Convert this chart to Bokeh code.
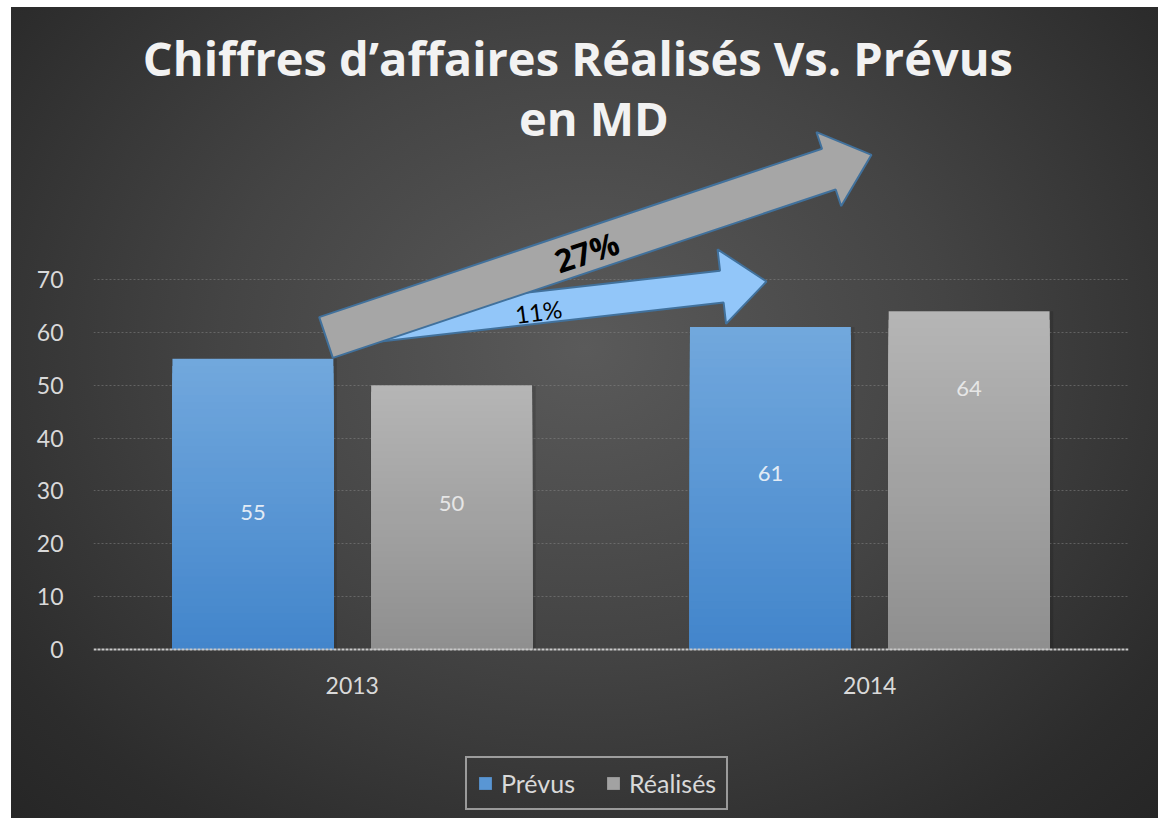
import math
from bokeh.plotting import figure
from bokeh.models import (Range1d, FactorRange, FixedTicker, Legend, LegendItem,
                          ColumnDataSource)
from bokeh.transform import dodge
from bokeh.core.properties import value
from bokeh.embed import file_html
from bokeh.resources import INLINE

# ---------------- data ----------------
years = ["2013", "2014"]
series_names = ["Prévus", "Réalisés"]
prevus = [55, 61]
realises = [50, 64]
label_y_prevus = [25.9, 33.3]
label_y_realises = [27.6, 49.4]
y_ticks = [0, 10, 20, 30, 40, 50, 60, 70]
growth_labels = ["27%", "11%"]
title_lines = ["Chiffres d\u2019affaires Réalisés Vs. Prévus", "en MD"]

FONT = "Lato"
W, H = 1147, 811
FL, FR = 82, 30
ZERO_Y = 642                             # pixel row of value 0 (from figure top)
PX_X = (W - FL - FR) / 2.0               # px per category
PX_Y = 370.0 / 70.0                      # px per unit
Y_END = ZERO_Y / PX_Y
Y_START = -(H - ZERO_Y) / PX_Y

p = figure(width=W, height=H, output_backend="svg", toolbar_location=None,
           x_range=FactorRange(factors=years, range_padding=0),
           y_range=Range1d(Y_START, Y_END),
           min_border_left=FL, min_border_right=FR, min_border_top=0, min_border_bottom=0,
           border_fill_color=None, background_fill_color=None, outline_line_color=None,
           styles={"margin-left": "11px", "margin-top": "7px",
                   "background": "radial-gradient(ellipse farthest-corner at 50% 42%, #5a5a5a 0%, #444444 45%, #2c2c2c 85%, #262626 100%)"})

# axes
p.yaxis.ticker = FixedTicker(ticks=y_ticks)
p.yaxis.axis_line_color = None
p.yaxis.major_tick_line_color = None
p.yaxis.minor_tick_line_color = None
p.yaxis.major_label_standoff = 24
p.yaxis.major_label_text_font = FONT
p.yaxis.major_label_text_font_size = "23px"
p.yaxis.major_label_text_color = "#d9d9d9"

p.xaxis.fixed_location = 0
p.xaxis.axis_line_color = "#c8c8c8"
p.xaxis.axis_line_width = 2
p.xaxis.axis_line_dash = "3 1"
p.xaxis.major_tick_line_color = None
p.xaxis.minor_tick_line_color = None
p.xaxis.major_label_standoff = 21
p.xaxis.major_label_text_font = FONT
p.xaxis.major_label_text_font_size = "23px"
p.xaxis.major_label_text_color = "#d9d9d9"

p.xgrid.grid_line_color = None
p.ygrid.ticker = FixedTicker(ticks=y_ticks[1:])
p.ygrid.grid_line_color = "#8a8a8a"
p.ygrid.grid_line_alpha = 0.5
p.ygrid.grid_line_dash = "2 2"

# ---------------- title (two lines) ----------------
p.text(x=[0.936], y=[112.0], text=[title_lines[0]],
       text_font=value("Open Sans"), text_font_style="bold", text_font_size="47px",
       text_color="#f2f2f2", text_align="center", text_baseline="alphabetic")
p.text(x=[0.967], y=[100.6], text=[title_lines[1]],
       text_font=value("Open Sans"), text_font_style="bold", text_font_size="47px",
       text_color="#f2f2f2", text_align="center", text_baseline="alphabetic")

# ---------------- bars with vertical gradient ----------------
N = 40

def lerp(c1, c2, t):
    a = [int(c1[i:i + 2], 16) for i in (1, 3, 5)]
    b = [int(c2[i:i + 2], 16) for i in (1, 3, 5)]
    return "#%02x%02x%02x" % tuple(round(a[k] + (b[k] - a[k]) * t) for k in range(3))

def gradient_source(vals, c_bottom, c_top):
    # overlapping slices from the full bar down to the lowest band: no seams
    xs, tops, cols = [], [], []
    for k in range(N - 1, -1, -1):
        for yr, v in zip(years, vals):
            xs.append(yr)
            tops.append(v * (k + 1) / N)
            cols.append(lerp(c_bottom, c_top, (k + 0.5) / N))
    return ColumnDataSource(dict(x=xs, top=tops, color=cols))

OFF = 0.192
BW = 0.311

# soft shadows
for vals, off in ((prevus, -OFF), (realises, OFF)):
    p.vbar(x=dodge("x", off + 0.003, range=p.x_range), top="top", width=BW + 0.008,
           source=ColumnDataSource(dict(x=years, top=vals)),
           fill_color="black", fill_alpha=0.12, line_color=None)

src_p = gradient_source(prevus, "#4285cb", "#72a8dd")
src_r = gradient_source(realises, "#8f8f8f", "#b5b5b5")
r_p = p.vbar(x=dodge("x", -OFF, range=p.x_range), top="top", width=BW,
             source=src_p, fill_color="color", line_color=None)
r_r = p.vbar(x=dodge("x", OFF, range=p.x_range), top="top", width=BW,
             source=src_r, fill_color="color", line_color=None)

# data labels
lab_src = ColumnDataSource(dict(x=years, yp=label_y_prevus, yr=label_y_realises,
                                tp=[str(v) for v in prevus], tr=[str(v) for v in realises]))
p.text(x=dodge("x", -OFF, range=p.x_range), y="yp", text="tp", source=lab_src,
       text_font=value(FONT), text_font_size="22px", text_color="#e2ebf5",
       text_align="center", text_baseline="middle")
p.text(x=dodge("x", OFF, range=p.x_range), y="yr", text="tr", source=lab_src,
       text_font=value(FONT), text_font_size="22px", text_color="#e6e6e6",
       text_align="center", text_baseline="middle")

# ---------------- growth arrows ----------------
def arrow(x0, y0, x1, y1, shaft, head_w, head_l):
    X0, Y0, X1, Y1 = x0 * PX_X, y0 * PX_Y, x1 * PX_X, y1 * PX_Y
    dx, dy = X1 - X0, Y1 - Y0
    L = math.hypot(dx, dy)
    ux, uy = dx / L, dy / L
    nx, ny = -uy, ux
    bx, by = X1 - ux * head_l, Y1 - uy * head_l
    pts = [(X0 + nx * shaft / 2, Y0 + ny * shaft / 2),
           (bx + nx * shaft / 2, by + ny * shaft / 2),
           (bx + nx * head_w / 2, by + ny * head_w / 2),
           (X1, Y1),
           (bx - nx * head_w / 2, by - ny * head_w / 2),
           (bx - nx * shaft / 2, by - ny * shaft / 2),
           (X0 - nx * shaft / 2, Y0 - ny * shaft / 2)]
    return [q[0] / PX_X for q in pts], [q[1] / PX_Y for q in pts]

bx_, by_ = arrow(0.4966, 60.65, 1.3005, 69.62, 32, 75, 45)
p.patch(bx_, by_, fill_color="#92c6f9", line_color="#41719c", line_width=2)
gx_, gy_ = arrow(0.4493, 59.03, 1.5034, 93.59, 43, 78, 45)
p.patch(gx_, gy_, fill_color="#a6a6a6", line_color="#41719c", line_width=2)

p.text(x=[0.9527], y=[75.3], text=[growth_labels[0]], angle=0.32,
       text_font=value("Open Sans"), text_font_style="bold", text_font_size="32px",
       text_color="black", text_align="center", text_baseline="middle")
p.text(x=[0.86], y=[63.95], text=[growth_labels[1]], angle=0.13,
       text_font=value(FONT), text_font_size="24px",
       text_color="black", text_align="center", text_baseline="middle")

# ---------------- legend ----------------
legend = Legend(items=[LegendItem(label=series_names[0], renderers=[r_p], index=N),
                       LegendItem(label=series_names[1], renderers=[r_r], index=N)],
                location=(372, 8), orientation="horizontal",
                border_line_color="white", border_line_width=2,
                background_fill_alpha=0, label_text_font=FONT,
                label_text_font_size="25px", label_text_color="#d9d9d9",
                glyph_width=16, glyph_height=16, spacing=30, padding=10,
                label_standoff=8, margin=0)
p.add_layout(legend, "center")

open("out.html", "w").write(file_html(p, INLINE))
